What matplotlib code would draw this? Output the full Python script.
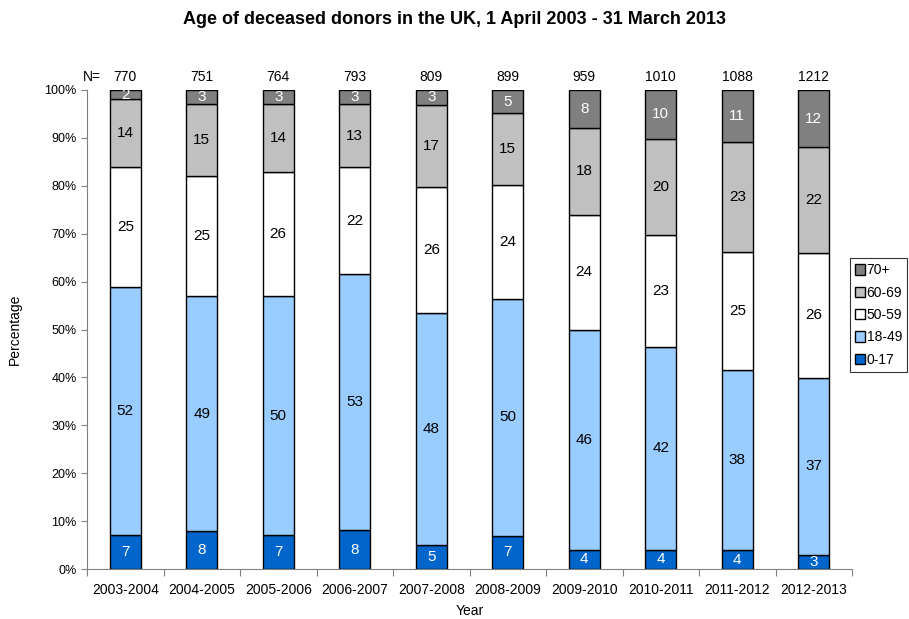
"""Age of deceased donors in the UK, 100% stacked bars."""

import matplotlib.pyplot as plt
import numpy as np

plt.rcParams["font.family"] = ["Liberation Sans", "DejaVu Sans"]

years = ["2003-2004", "2004-2005", "2005-2006", "2006-2007", "2007-2008",
         "2008-2009", "2009-2010", "2010-2011", "2011-2012", "2012-2013"]
n_donors = [770, 751, 764, 793, 809, 899, 959, 1010, 1088, 1212]

age_groups = ["0-17", "18-49", "50-59", "60-69", "70+"]
pct_0_17 = [7.0, 7.9, 7.0, 8.1, 5.0, 6.9, 4.0, 4.0, 3.9, 3.0]
pct_18_49 = [51.9, 49.1, 50.0, 53.4, 48.4, 49.5, 46.0, 42.4, 37.7, 36.9]
pct_50_59 = [25.1, 25.0, 25.9, 22.4, 26.3, 23.7, 24.0, 23.3, 24.6, 26.1]
pct_60_69 = [14.1, 15.0, 14.1, 13.1, 17.2, 15.0, 18.0, 20.1, 22.9, 22.0]
pct_70_plus = [1.9, 3.0, 3.0, 3.0, 3.1, 4.9, 8.0, 10.2, 10.9, 12.0]

series = [pct_0_17, pct_18_49, pct_50_59, pct_60_69, pct_70_plus]
colors = ["#0066CC", "#99CCFF", "#FFFFFF", "#C0C0C0", "#808080"]
text_colors = ["white", "black", "black", "black", "white"]

fig = plt.figure(figsize=(9.09, 6.19), dpi=100)
ax = fig.add_axes([87 / 909, 1 - 569 / 619, (852 - 87) / 909, (569 - 90) / 619])

x = np.arange(len(years))
bottom = np.zeros(len(years))
handles = []
for vals, col, tcol, lab in zip(series, colors, text_colors, age_groups):
    vals = np.array(vals)
    bars = ax.bar(x, vals, width=0.405, bottom=bottom, color=col,
                  edgecolor="black", linewidth=1.0, label=lab)
    handles.append(bars)
    for xi, b, v in zip(x, bottom, vals):
        ax.text(xi, b + v / 2, f"{v:.0f}", ha="center", va="center",
                fontsize=11, color=tcol)
    bottom += vals

ax.set_xlim(-0.5, len(years) - 0.5)
ax.set_ylim(0, 100)
ax.set_yticks(np.arange(0, 101, 10))
ax.set_yticklabels([f"{v}%" for v in range(0, 101, 10)], fontsize=9)
ax.set_xticks(np.arange(-0.5, len(years), 1.0))
ax.set_xticklabels([])
ax.set_xticks(x, minor=True)
ax.set_xticklabels(years, minor=True, fontsize=10)
ax.tick_params(axis="x", which="minor", length=0, pad=10)
ax.tick_params(axis="x", which="major", length=5, color="#808080")
ax.tick_params(axis="y", length=4, color="#808080")

for s in ["top", "right"]:
    ax.spines[s].set_visible(False)
for s in ["left", "bottom"]:
    ax.spines[s].set_color("#808080")

ax.set_xlabel("Year", fontsize=10, labelpad=5)
ax.set_ylabel("Percentage", fontsize=10, labelpad=16)

for xi, n in zip(x, n_donors):
    ax.text(xi, 102.8, str(n), ha="center", va="center", fontsize=10)
ax.text(-0.43, 102.8, "N=", ha="center", va="center", fontsize=10)

fig.text(0.5, 1 - 19 / 619, "Age of deceased donors in the UK, 1 April 2003 - 31 March 2013",
         ha="center", va="center", fontsize=13, fontweight="bold")

leg = fig.legend(handles[::-1], age_groups[::-1], loc="center right",
                 bbox_to_anchor=(907 / 909, 1 - 315 / 619), fontsize=10,
                 frameon=True, fancybox=False, edgecolor="black",
                 handlelength=0.75, handleheight=0.75, handletextpad=0.1,
                 borderpad=0.35, labelspacing=0.6, borderaxespad=0)
leg.get_frame().set_linewidth(0.8)

fig.savefig("out.png", dpi=100)
